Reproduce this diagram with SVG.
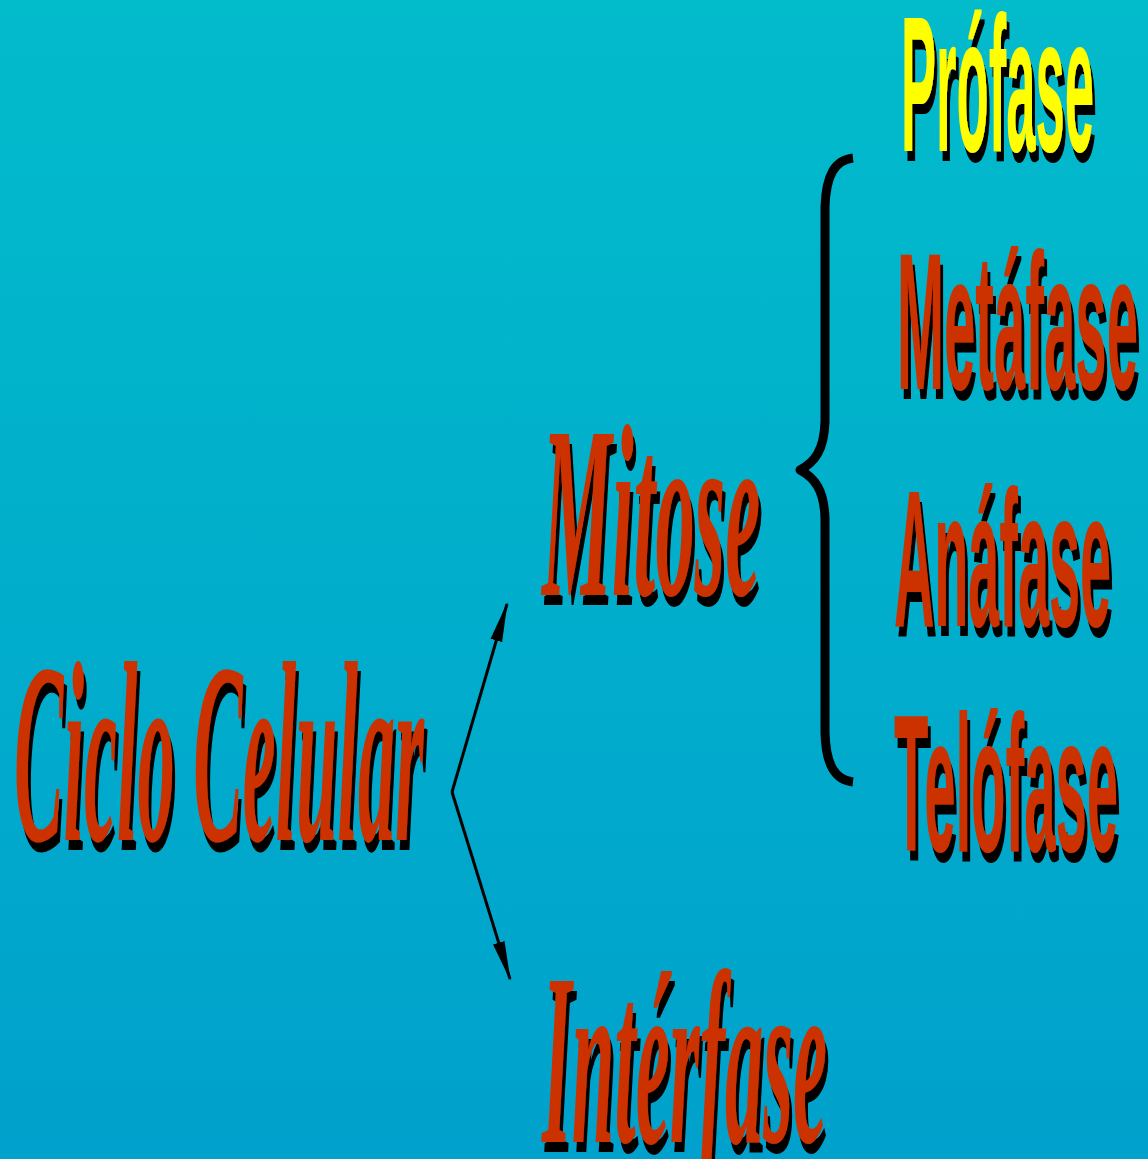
<svg xmlns="http://www.w3.org/2000/svg" width="1148" height="1159" viewBox="0 0 1148 1159">
<defs>
<linearGradient id="bg" x1="0" y1="0" x2="0" y2="1">
<stop offset="0" stop-color="#02BBCB"/>
<stop offset="1" stop-color="#00A1CC"/>
</linearGradient>
<filter id="shadow" x="-5%" y="-5%" width="115%" height="125%">
<feFlood flood-color="#000" result="k"/>
<feComposite in="k" in2="SourceAlpha" operator="in" result="ks"/>
<feOffset in="ks" dx="3" dy="10" result="off"/>
<feMerge><feMergeNode in="off"/><feMergeNode in="SourceGraphic"/></feMerge>
</filter>
<marker id="ah" viewBox="0 0 40 14" refX="38" refY="7" markerWidth="40" markerHeight="14" markerUnits="userSpaceOnUse" orient="auto">
<path d="M0,1 L40,7 L0,13 Z" fill="#000"/>
</marker>
<style>
.ph{font-family:"Liberation Sans",Arial,sans-serif;font-weight:bold;filter:url(#shadow);}
.cy{font-family:"Liberation Serif","Times New Roman",serif;font-weight:bold;font-style:italic;filter:url(#shadow);}
.red{fill:#CC3300;}
.yel{fill:#FFFF00;}
.conn{stroke:#000;stroke-width:3;fill:none;marker-end:url(#ah);}
.brace{stroke:#000;stroke-width:9;fill:none;stroke-linejoin:round;}
</style>
</defs>
<rect width="1148" height="1159" fill="url(#bg)"/>
<g id="connectors">
<path class="conn" d="M452,792 L507,604"/>
<path class="conn" d="M452,792 L510,979"/>
<path class="brace" d="M853,158 C835,160 826,175 825,207 L825,422 C824,450 815,462 800,470 C815,478 824,490 825,518 L825,733 C826,765 835,780 853,782"/>
</g>
<g id="ciclo">
<text class="cy red" x="14" y="840" font-size="258" textLength="410" lengthAdjust="spacingAndGlyphs">Ciclo Celular</text>
</g>
<g id="mitose">
<text class="cy red" x="542" y="595" font-size="246" textLength="218" lengthAdjust="spacingAndGlyphs">Mitose</text>
</g>
<g id="interfase">
<text class="cy red" x="542" y="1142" font-size="245" textLength="285" lengthAdjust="spacingAndGlyphs">Intérfase</text>
</g>
<g id="profase">
<text class="ph yel" x="901" y="151" font-size="193" textLength="193" lengthAdjust="spacingAndGlyphs">Prófase</text>
</g>
<g id="metafase">
<text class="ph red" x="897" y="389" font-size="194" textLength="241" lengthAdjust="spacingAndGlyphs">Metáfase</text>
</g>
<g id="anafase">
<text class="ph red" x="894" y="626" font-size="195" textLength="217" lengthAdjust="spacingAndGlyphs">Anáfase</text>
</g>
<g id="telofase">
<text class="ph red" x="894" y="851" font-size="194" textLength="224" lengthAdjust="spacingAndGlyphs">Telófase</text>
</g>
</svg>
